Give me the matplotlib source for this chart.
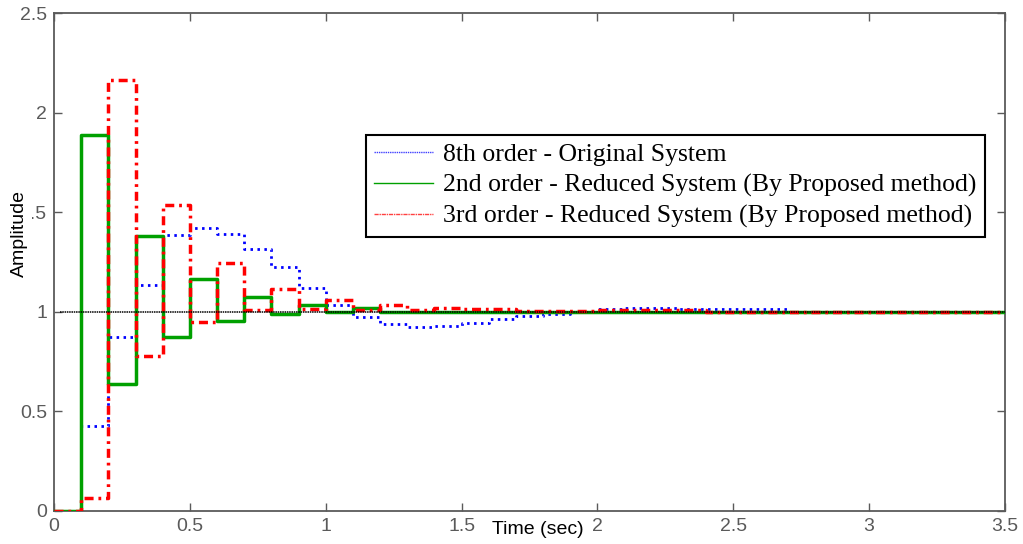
import numpy as np
import matplotlib
matplotlib.use("Agg")
import matplotlib.pyplot as plt
from matplotlib.lines import Line2D

# sample time 0.1 s, step response values
dt = 0.1
n_samples = 36

y_8th = [0, 0.428, 0.875, 1.134, 1.388, 1.423, 1.393, 1.315, 1.226, 1.12,
         1.035, 0.975, 0.94, 0.922, 0.928, 0.943, 0.962, 0.98, 0.989, 1.0,
         1.015, 1.017, 1.017, 1.015, 1.015, 1.012, 1.012, 1.0, 1.0, 1.0,
         1.0, 1.0, 1.0, 1.0, 1.0, 1.0]
y_2nd = [0, 1.89, 0.636, 1.38, 0.872, 1.163, 0.955, 1.072, 0.987, 1.034,
         1.0, 1.02, 1.0, 1.0, 0.997, 1.0, 1.0, 1.0, 1.0, 1.0,
         1.0, 1.0, 1.0, 1.0, 1.0, 1.0, 1.0, 1.0, 1.0, 1.0,
         1.0, 1.0, 1.0, 1.0, 1.0, 1.0]
y_3rd = [0, 0.064, 2.166, 0.778, 1.535, 0.947, 1.246, 1.008, 1.114, 1.012,
         1.06, 1.01, 1.034, 1.01, 1.02, 1.012, 1.015, 1.005, 1.005, 1.005,
         1.008, 1.008, 1.008, 1.008, 1.0, 1.0, 1.0, 1.0, 1.0, 1.0,
         1.0, 1.0, 1.0, 1.0, 1.0, 1.0]
steady = 1.0

labels = ["8th order - Original System",
          "2nd order - Reduced System (By Proposed method)",
          "3rd order - Reduced System (By Proposed method)"]

t = np.arange(n_samples) * dt

plt.rcParams['font.family'] = ['Liberation Sans', 'DejaVu Sans']
grey = '#5a5a5a'

fig = plt.figure(figsize=(10.23, 5.44), dpi=100)
ax = fig.add_axes([0.0528, 0.0607, 0.9296, 0.9153])

ax.step(t, y_8th, where='post', color='#0000ff', lw=2.0, ls=(0, (0.9, 1.6)), zorder=2)
ax.step(t, y_2nd, where='post', color='#00a000', lw=2.5, ls='-', zorder=3)
ax.step(t, y_3rd, where='post', color='#ff0000', lw=2.5, ls=(0, (2.6, 1.4, 0.8, 1.4)), zorder=4)
ax.axhline(steady, xmin=0.006, color='black', lw=1.1, ls=(0, (1, 0.5)), zorder=5)

ax.set_xlim(0, 3.5)
ax.set_ylim(0, 2.5)
ax.set_xticks(np.arange(0, 3.51, 0.5))
ax.set_xticklabels(["0", "0.5", "1", "1.5", "2", "2.5", "3", "3.5"])
ax.set_yticks(np.arange(0, 2.51, 0.5))
ax.set_yticklabels(["0", "0.5", "1", "1.5", "2", "2.5"])

for s in ax.spines.values():
    s.set_color(grey)
    s.set_linewidth(1.3)
ax.tick_params(direction='in', length=6, width=1, colors=grey, labelsize=14,
               top=True, right=True, labelcolor=grey)
ax.tick_params(axis='x', pad=5)
ax.tick_params(axis='y', pad=5)

ax.set_xlabel("Time (sec)", fontsize=14, color='black')
ax.xaxis.set_label_coords(0.509, -0.038)
ax.xaxis.label.set_va('center')
# in the original the y label sits over the "1" of the 1.5 tick label
ax.set_ylabel("Amplitude", fontsize=14, color='black',
              bbox=dict(facecolor='white', edgecolor='none', pad=3))
ax.yaxis.set_label_coords(-0.036, 0.558)
ax.yaxis.label.set_va('center')

handles = [Line2D([], [], color='#4040ff', lw=1.0, ls=(0, (1, 0.6))),
           Line2D([], [], color='#00a000', lw=1.0),
           Line2D([], [], color='#ff4040', lw=1.0, ls=(0, (3, 0.6, 1, 0.6)))]
leg = ax.legend(handles, labels, loc='upper right', bbox_to_anchor=(0.979, 0.755),
                prop={'family': 'Liberation Serif', 'size': 18.5},
                fancybox=False, framealpha=1, edgecolor='black',
                handlelength=2.3, handletextpad=0.4, borderpad=0.32,
                labelspacing=0.3, borderaxespad=0)
leg.get_frame().set_linewidth(1.5)

fig.savefig("out.png", dpi=100)
